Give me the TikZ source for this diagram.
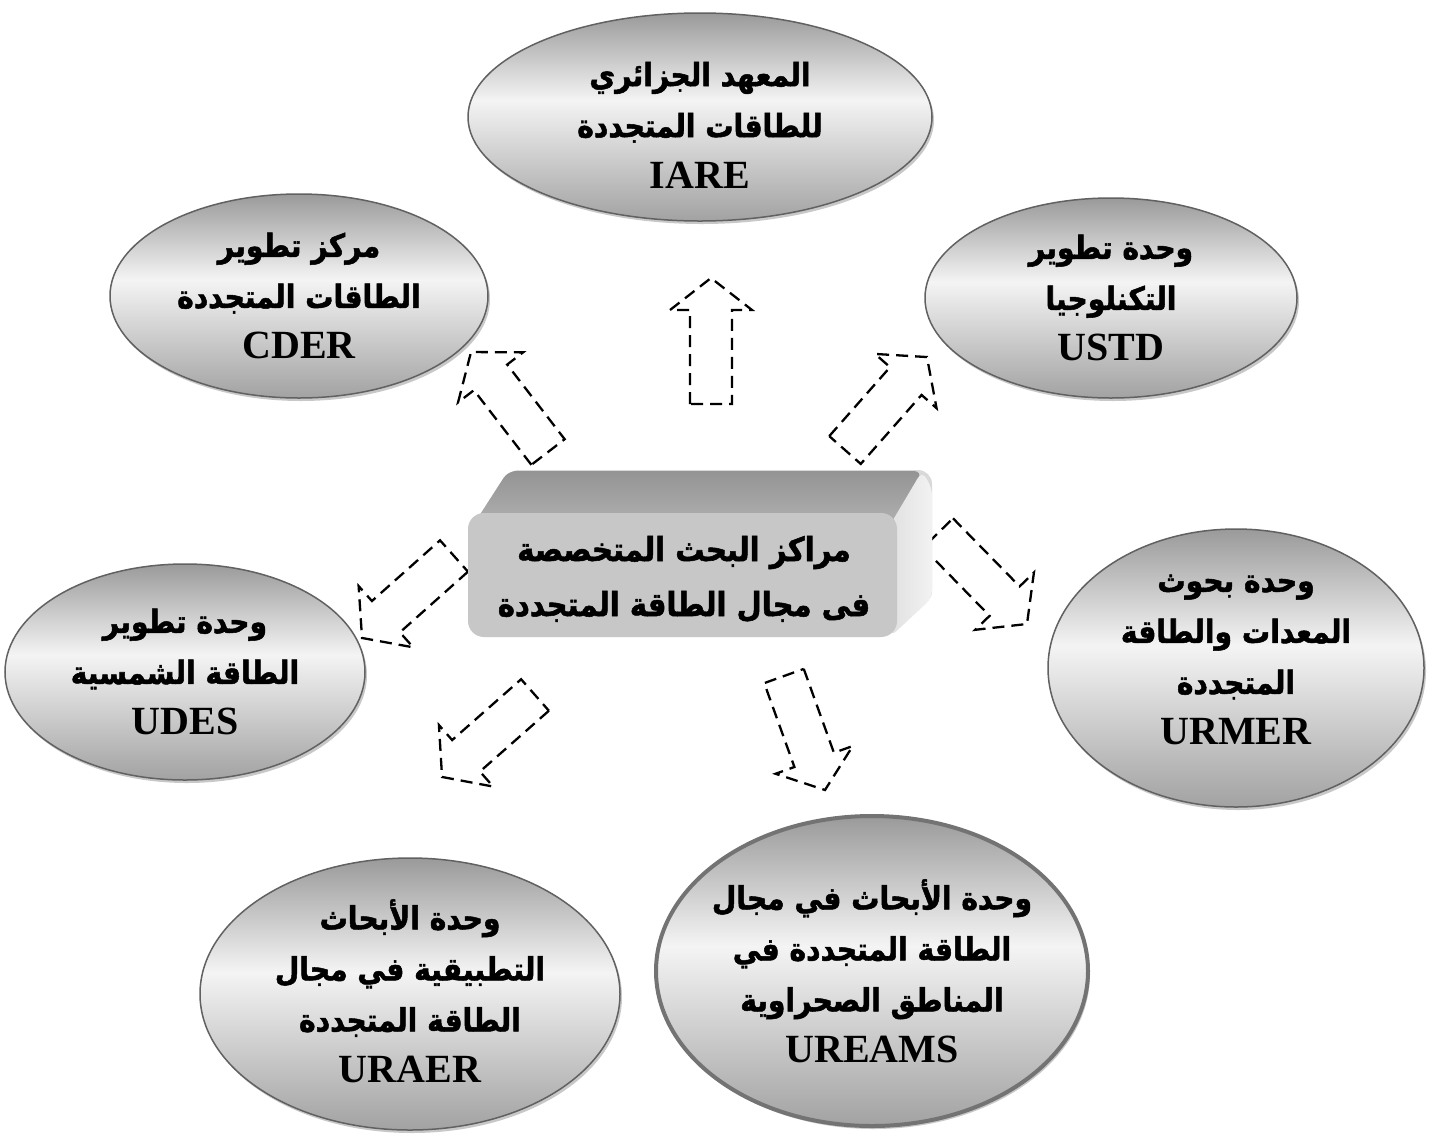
\documentclass[tikz,border=0pt]{standalone}
\usepackage{fontspec}
\setmainfont{Liberation Serif}
\newfontfamily\arabicfont[Script=Arabic, FakeStretch=0.88, BoldFeatures={FakeBold=1.6}]{DejaVu Sans}
\TeXXeTstate=1
\usetikzlibrary{shapes.geometric,shadows,calc}
\definecolor{ebot}{HTML}{A2A2A2}
\definecolor{emid}{HTML}{F4F4F4}
\definecolor{etop}{HTML}{9A9A9A}
\pgfdeclareverticalshading{ellshade}{100bp}{color(0bp)=(ebot); color(25bp)=(ebot); color(54bp)=(emid); color(75bp)=(etop); color(100bp)=(etop)}
\newcommand\artxt[1]{{\arabicfont\bfseries\beginR #1\endR}}
\newcommand\latxt[1]{{\fontsize{40}{50}\selectfont\bfseries #1}}
\newcommand\blockarr[2]{%
  \path[barrowline] let \p1=($(#2)-(#1)$), \n1={atan2(\y1,\x1)}, \n2={veclen(\x1,\y1)} in
  [shift={(#1)}, rotate=\n1] (0,-21) -- (\n2-32,-21) -- (\n2-32,-41) -- (\n2,0) -- (\n2-32,41) -- (\n2-32,21) -- (0,21) -- cycle;}
\tikzset{
  ell/.style={ellipse, draw=black!62, line width=1.5pt, shading=ellshade, inner sep=0pt,
    drop shadow={shadow xshift=2pt, shadow yshift=-3pt, opacity=0.3, fill=black!70}},
  etext/.style={align=center, inner sep=0pt, font=\fontsize{32}{51}\selectfont},
  barrowline/.style={draw=black, line width=2.3pt, dash pattern=on 12pt off 7pt, fill=white},
}
\begin{document}
\begin{tikzpicture}[x=1pt,y=-1pt]
\useasboundingbox[fill=white] (0,0) rectangle (1431,1133);
% ellipses
\node[ell, minimum width=464pt, minimum height=208pt] (iare) at (700,117) {};
\node[ell, minimum width=378pt, minimum height=204pt] (cder) at (299,296) {};
\node[ell, minimum width=372pt, minimum height=200pt] (ustd) at (1111,298) {};
\node[ell, minimum width=360pt, minimum height=216pt] (udes) at (185,672) {};
\node[ell, minimum width=376pt, minimum height=278pt] (urmer) at (1236,668) {};
\node[ell, minimum width=420pt, minimum height=272pt] (uraer) at (410,994) {};
\node[ell, minimum width=432pt, minimum height=310pt, draw=black!55, line width=4pt] (ureams) at (872,971) {};
% arrow end points
\coordinate (a1s) at (711,404); \coordinate (a1e) at (711,278);
\coordinate (a2s) at (548,452); \coordinate (a2e) at (471,352);
\coordinate (a3s) at (845,450); \coordinate (a3e) at (927,357);
\coordinate (a4s) at (938,533); \coordinate (a4e) at (1027,624);
\coordinate (a5s) at (454,556); \coordinate (a5e) at (362,638);
\coordinate (a6s) at (535,695); \coordinate (a6e) at (442,777);
\coordinate (a7s) at (784,676); \coordinate (a7e) at (825,790);
\blockarr{a1s}{a1e}
\blockarr{a2s}{a2e}
\blockarr{a3s}{a3e}
\blockarr{a4s}{a4e}
\blockarr{a5s}{a5e}
\blockarr{a6s}{a6e}
\blockarr{a7s}{a7e}
% central 3D box
\fill[black!15, rounded corners=14pt] (505,470) rectangle (932,605);
\shade[top color=black!42, bottom color=black!30, rounded corners=8pt] (470,530) -- (508,471) -- (922,471) -- (897,530) -- cycle;
\shade[left color=black!12, right color=black!5, rounded corners=8pt] (890,525) -- (922,471) -- (932,488) -- (932,598) -- (890,637) -- cycle;
\fill[black!22, rounded corners=16pt] (468,513) rectangle (897,637);
\node[etext, font=\fontsize{33}{55}\selectfont] (hub) at (684,579) {\artxt{مراكز البحث المتخصصة}\\\artxt{فى مجال الطاقة المتجددة}};
% texts
\node[etext] (iaret) at ($(iare)+(0,8)$) {\artxt{المعهد الجزائري}\\\artxt{للطاقات المتجددة}\\\latxt{IARE}};
\node[etext] (cdert) at (cder) {\artxt{مركز تطوير}\\\artxt{الطاقات المتجددة}\\\latxt{CDER}};
\node[etext] (ustdt) at (ustd) {\artxt{وحدة تطوير}\\\artxt{التكنلوجيا}\\\latxt{USTD}};
\node[etext] (udest) at (udes) {\artxt{وحدة تطوير}\\\artxt{الطاقة الشمسية}\\\latxt{UDES}};
\node[etext] (urmert) at ($(urmer)+(0,-8)$) {\artxt{وحدة بحوث}\\\artxt{المعدات والطاقة}\\\artxt{المتجددة}\\\latxt{URMER}};
\node[etext] (uraert) at ($(uraer)+(0,-3)$) {\artxt{وحدة الأبحاث}\\\artxt{التطبيقية في مجال}\\\artxt{الطاقة المتجددة}\\\latxt{URAER}};
\node[etext] (ureamst) at (ureams) {\artxt{وحدة الأبحاث في مجال}\\\artxt{الطاقة المتجددة في}\\\artxt{المناطق الصحراوية}\\\latxt{UREAMS}};
\end{tikzpicture}
\end{document}
